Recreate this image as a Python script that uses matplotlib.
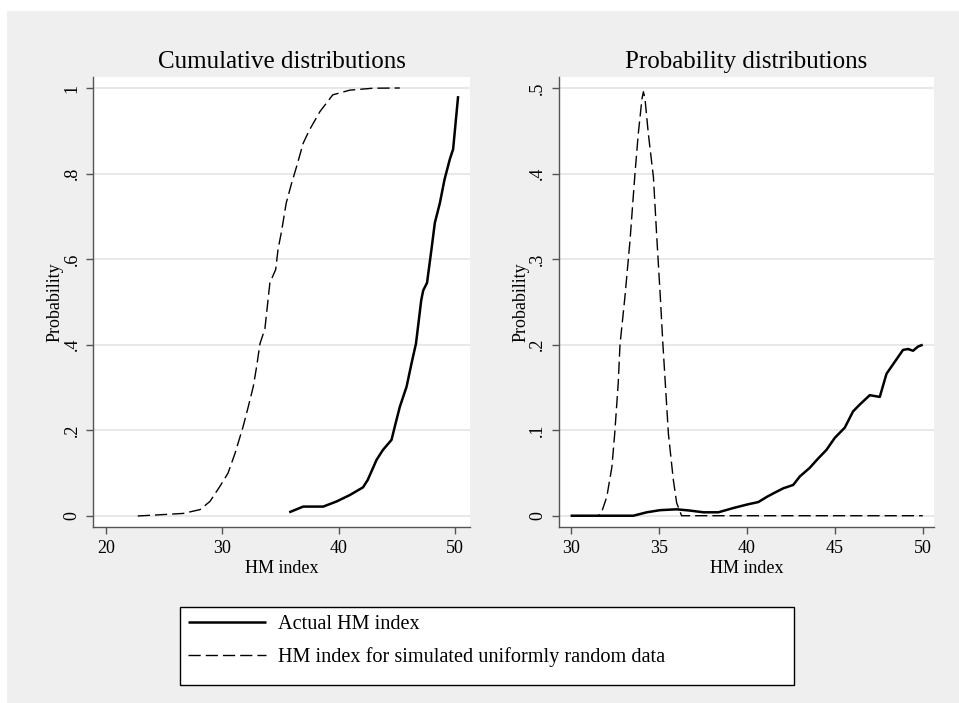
import matplotlib
matplotlib.use("Agg")
import matplotlib.pyplot as plt
from matplotlib.patches import Rectangle
from matplotlib.lines import Line2D

plt.rcParams['font.family'] = ['Liberation Serif', 'DejaVu Serif']

# cumulative distributions (left panel)
cdf_sim_x = [22.75, 26.66, 28.1, 28.95, 29.8, 30.5, 31.1, 31.8, 32.24, 32.67, 32.96, 33.25,
             33.67, 34.1, 34.6, 34.8, 35.1, 35.5, 35.97, 36.4, 36.96, 37.5, 38.4, 39.5,
             40.97, 42.97, 45.26]
cdf_sim_y = [0.0, 0.006, 0.015, 0.034, 0.069, 0.10, 0.146, 0.209, 0.255, 0.302, 0.349, 0.403,
             0.437, 0.545, 0.576, 0.623, 0.665, 0.731, 0.778, 0.817, 0.871, 0.902, 0.945, 0.984,
             0.995, 0.9995, 1.0]
cdf_act_x = [35.76, 36.96, 38.68, 39.83, 40.97, 42.1, 42.5, 43.26, 43.8, 44.55, 44.83, 45.26,
             45.84, 46.27, 46.65, 47.1, 47.27, 47.6, 47.98, 48.27, 48.7, 49.1, 49.55, 49.84,
             50.27]
cdf_act_y = [0.0086, 0.022, 0.022, 0.034, 0.049, 0.067, 0.084, 0.131, 0.154, 0.178, 0.209, 0.255,
             0.302, 0.357, 0.403, 0.504, 0.527, 0.545, 0.623, 0.685, 0.731, 0.786, 0.833, 0.857,
             0.981]

# probability distributions (right panel)
pdf_sim_x = [30.0, 31.57, 31.77, 32.05, 32.34, 32.5, 32.7, 32.8, 33.08, 33.37, 33.65, 33.84,
             34.05, 34.13, 34.22, 34.41, 34.7, 34.89, 35.08, 35.24, 35.55, 35.83, 36.02, 36.3, 50.0]
pdf_sim_y = [0.0, 0.0, 0.005, 0.022, 0.057, 0.096, 0.155, 0.2, 0.256, 0.322, 0.40, 0.447,
             0.488, 0.496, 0.488, 0.447, 0.396, 0.326, 0.26, 0.2, 0.096, 0.042, 0.015, 0.0, 0.0]
pdf_act_x = [30.0, 33.56, 34.32, 35.08, 36.02, 36.78, 37.54, 38.39, 39.24, 40.0, 40.66, 41.14,
             41.5, 42.07, 42.64, 43.02, 43.58, 44.06, 44.53, 45.0, 45.57, 46.04, 46.42, 46.99,
             47.56, 47.94, 48.41, 48.88, 49.17, 49.45, 49.74, 50.0]
pdf_act_y = [0.0, 0.0, 0.004, 0.0065, 0.0075, 0.006, 0.004, 0.004, 0.009, 0.013, 0.016, 0.022,
             0.026, 0.032, 0.036, 0.046, 0.056, 0.067, 0.077, 0.091, 0.103, 0.122, 0.13, 0.141,
             0.139, 0.166, 0.18, 0.194, 0.195, 0.193, 0.198, 0.2]

legend_labels = ['Actual HM index', 'HM index for simulated uniformly random data']

W, H = 959, 703
fig = plt.figure(figsize=(W / 100, H / 100), dpi=100)
fig.patch.set_facecolor('white')
fig.add_artist(Rectangle((7 / W, 0), 1, (H - 11) / H, transform=fig.transFigure,
                         facecolor='#efefef', edgecolor='none', zorder=0))

solid = dict(color='black', lw=1.8, solid_joinstyle='round', solid_capstyle='butt')
dashed = dict(color='black', lw=1.0, dashes=(8.8, 3.6))


def style(ax, yticks, ylabels):
    ax.set_facecolor('white')
    for s in ['top', 'right']:
        ax.spines[s].set_visible(False)
    for s in ['left', 'bottom']:
        ax.spines[s].set_color('#555555')
        ax.spines[s].set_linewidth(1.0)
    ax.set_yticks(yticks)
    ax.set_yticklabels(ylabels, rotation=90, va='center')
    ax.yaxis.grid(True, color='#e6e6e6', lw=1.3)
    ax.set_axisbelow(True)
    ax.tick_params(direction='out', length=4.7, width=1.0, color='#555555',
                   labelsize=13, pad=4.5)
    ax.set_ylabel('Probability', fontsize=13, labelpad=0)
    ax.set_xlabel('HM index', fontsize=13, labelpad=2)


ax1 = fig.add_axes([93.3 / W, (H - 527) / H, (470 - 93.3) / W, 450.3 / H])
ax1.plot(cdf_act_x, cdf_act_y, **solid)
ax1.plot(cdf_sim_x, cdf_sim_y, **dashed)
ax1.set_xlim(18.93, 51.29)
ax1.set_ylim(-0.0257, 1.0264)
ax1.set_xticks([20, 30, 40, 50])
style(ax1, [0, 0.2, 0.4, 0.6, 0.8, 1], ['0', '.2', '.4', '.6', '.8', '1'])

ax2 = fig.add_axes([559 / W, (H - 527) / H, (934 - 559) / W, 450.3 / H])
ax2.plot(pdf_act_x, pdf_act_y, **solid)
ax2.plot(pdf_sim_x, pdf_sim_y, **dashed)
ax2.set_xlim(29.335, 50.64)
ax2.set_ylim(-0.0132, 0.5136)
ax2.set_xticks([30, 35, 40, 45, 50])
style(ax2, [0, 0.1, 0.2, 0.3, 0.4, 0.5], ['0', '.1', '.2', '.3', '.4', '.5'])

fig.text(281.7 / W, (H - 62) / H, 'Cumulative distributions', ha='center', va='center', fontsize=18)
fig.text(746.5 / W, (H - 62) / H, 'Probability distributions', ha='center', va='center', fontsize=18)

# legend box
fig.add_artist(Rectangle((180 / W, (H - 685) / H), (794 - 180) / W, 78 / H,
                         transform=fig.transFigure, facecolor='white',
                         edgecolor='black', lw=1.0, zorder=1))
handles = [Line2D([], [], **solid), Line2D([], [], **dashed)]
fig.legend(handles, legend_labels, loc='upper left',
           bbox_to_anchor=(181 / W, (H - 608) / H), frameon=False, fontsize=14.6,
           handlelength=3.85, handletextpad=0.6, labelspacing=0.62, borderpad=0.35,
           borderaxespad=0)

fig.savefig('out.png', dpi=100, facecolor=fig.get_facecolor())
